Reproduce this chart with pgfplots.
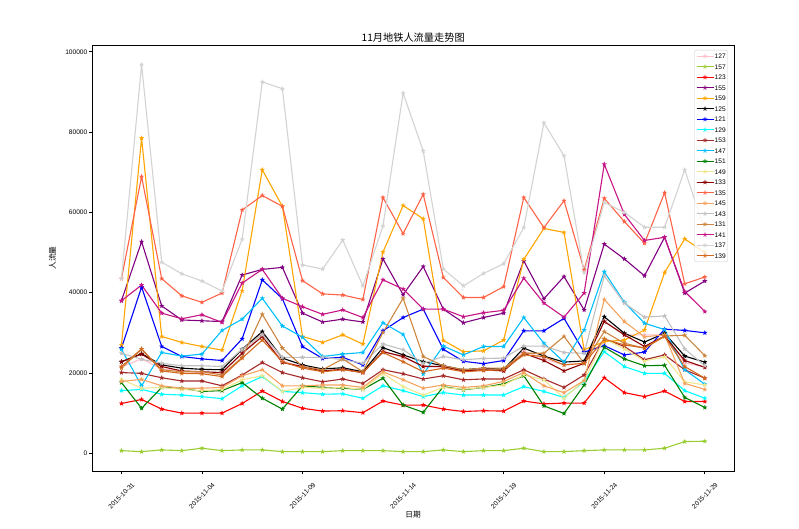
\documentclass[border=0pt]{standalone}
\usepackage{fontspec}
\setmainfont{Liberation Sans}
\newfontfamily\cjk{Noto Sans CJK SC}
\usepackage{pgfplots}
\usepackage{pgfplotstable}
\pgfplotsset{compat=1.18}

\definecolor{c127}{HTML}{FFC0CB}
\definecolor{c157}{HTML}{9ACD32}
\definecolor{c123}{HTML}{FF0000}
\definecolor{c155}{HTML}{800080}
\definecolor{c159}{HTML}{FFA500}
\definecolor{c125}{HTML}{000000}
\definecolor{c121}{HTML}{0000FF}
\definecolor{c129}{HTML}{00FFFF}
\definecolor{c153}{HTML}{A52A2A}
\definecolor{c147}{HTML}{00BFFF}
\definecolor{c151}{HTML}{008000}
\definecolor{c149}{HTML}{F0E68C}
\definecolor{c133}{HTML}{8B0000}
\definecolor{c135}{HTML}{FF6347}
\definecolor{c145}{HTML}{F4A460}
\definecolor{c143}{HTML}{C0C0C0}
\definecolor{c131}{HTML}{CD853F}
\definecolor{c141}{HTML}{C71585}
\definecolor{c137}{HTML}{D3D3D3}
\definecolor{c139}{HTML}{D2691E}

\pgfdeclareplotmark{fstar}{%
  \pgfpathmoveto{\pgfpointpolar{90}{\pgfplotmarksize}}%
  \pgfpathlineto{\pgfpointpolar{126}{0.42*\pgfplotmarksize}}%
  \pgfpathlineto{\pgfpointpolar{162}{\pgfplotmarksize}}%
  \pgfpathlineto{\pgfpointpolar{198}{0.42*\pgfplotmarksize}}%
  \pgfpathlineto{\pgfpointpolar{234}{\pgfplotmarksize}}%
  \pgfpathlineto{\pgfpointpolar{270}{0.42*\pgfplotmarksize}}%
  \pgfpathlineto{\pgfpointpolar{306}{\pgfplotmarksize}}%
  \pgfpathlineto{\pgfpointpolar{342}{0.42*\pgfplotmarksize}}%
  \pgfpathlineto{\pgfpointpolar{18}{\pgfplotmarksize}}%
  \pgfpathlineto{\pgfpointpolar{54}{0.42*\pgfplotmarksize}}%
  \pgfpathclose
  \pgfusepathqfill
}

\pgfplotstableread{
name d0 d1 d2 d3 d4 d5 d6 d7 d8 d9 d10 d11 d12 d13 d14 d15 d16 d17 d18 d19 d20 d21 d22 d23 d24 d25 d26 d27 d28 d29
s127 21500 23500 21000 20500 20000 20000 25000 29800 23000 21500 20500 21000 20000 25500 23800 21800 21500 20500 21000 20500 25500 23500 22000 22500 33000 29500 29500 29500 22500 21500
s157 650 400 830 650 1250 650 830 830 400 400 400 650 650 650 400 400 830 400 650 650 1250 400 400 650 830 830 830 1250 2900 3000
s123 12400 13400 11000 10000 10000 10000 12400 15500 12900 11200 10500 10600 10100 13000 12000 12000 11000 10400 10600 10500 13000 12300 12500 12500 18800 15100 14100 15500 12900 12900
s155 38000 52700 36700 33200 33000 32800 44400 45800 46300 34900 32700 33400 32700 48400 39500 46500 35900 32500 33800 34900 47900 38500 44000 35700 52100 48400 44200 53800 39900 42900
s159 27000 78500 29100 27600 26600 25700 40500 70600 61500 29100 27600 29500 27200 50100 61700 58400 28100 25300 25500 28200 48300 56000 55000 25800 27800 28200 30700 45000 53400 50000
s125 22800 24800 22000 21200 20900 20800 25900 30300 23700 22000 21000 21300 20300 26300 24500 22800 21800 20800 21200 20900 26200 24200 22700 23000 34000 29900 27700 29900 24200 22700
s121 26200 41400 26600 24100 23500 23100 28500 43200 38500 26600 23600 23900 22000 30500 33800 35900 25900 22900 22300 23100 30500 30500 33600 25200 26800 24500 25200 30900 30600 30000
s129 15600 15900 14700 14500 14100 13600 16800 19100 15400 15100 14700 14800 13700 16800 15600 14100 15100 14500 14500 14500 16600 15400 13900 17900 25300 21600 19900 19900 15600 13700
s153 20100 19900 18800 18000 18000 16800 19500 22600 20100 18800 17800 18500 17400 20800 19800 18500 19300 18300 18500 18500 20800 18500 16400 19500 28500 26600 23300 24500 20800 18700
s147 25900 16800 25100 24200 24700 30600 33400 38600 31700 28900 24100 24700 25100 32500 29600 19700 26700 24500 26600 26600 33800 27400 22700 30700 45200 37600 32400 30800 20800 17200
s151 17600 11200 16400 16200 15400 15600 17600 13700 11000 16800 16400 16200 15900 18700 12000 10200 16600 15800 16400 17300 19300 11800 9900 17000 26400 23500 21800 21900 13900 11400
s149 18400 16200 16400 15900 15600 15900 18300 19300 15400 16400 16200 16400 15900 19900 16600 14500 16400 15900 16400 17000 19500 18300 13700 18100 28600 26000 23000 24000 17800 17000
s133 22800 24700 21600 20500 20300 20100 24900 29100 22600 21600 20500 20900 20100 25300 24100 21600 21600 20500 20800 20500 24900 23100 20500 22400 32800 29500 26600 29200 23100 21400
s135 43500 68900 43500 39200 37600 39900 60600 64200 61500 43000 39700 39400 38300 63700 54700 64500 43800 38800 38800 41500 63700 56200 62900 45700 63500 57700 52300 64900 42200 43900
s145 17900 18400 16800 16200 16200 16400 19300 20800 16800 16800 17000 17000 16400 20300 18300 16200 17000 16400 16800 17900 20100 16800 15100 18100 38300 32800 29000 29500 17400 15900
s143 24900 23400 22400 21800 21800 21600 25900 29500 23900 23900 23900 23300 22400 27200 25800 22400 24100 23300 23600 23700 26700 26700 25100 24900 44200 37400 33900 34200 26000 21800
s131 21200 25900 20800 20300 20300 19500 23900 34600 26200 21600 20800 23500 20300 30100 38600 24100 21800 20800 21200 21200 24900 24900 29100 22400 30300 27400 26200 29200 29400 24300
s141 38000 41900 34900 33500 34500 32600 42400 45800 38600 36500 34600 35700 33800 43200 40900 35900 35900 34000 35000 35600 43600 37400 33900 39900 72000 59500 53000 53800 40300 35300
s137 43500 96800 47600 44700 42900 40400 53300 92500 90800 46900 45900 53100 41700 56600 89700 75300 45900 41700 44800 47200 56200 82300 74100 45000 62500 60000 56300 56300 70600 55500
s139 21600 26000 20500 19900 19800 19100 23700 28200 22800 21200 20300 20800 20100 25100 22800 20300 21200 20300 20600 20800 24500 24100 22000 22400 28400 27000 26200 29100 21600 18700
}\rawdata
\pgfplotstabletranspose[colnames from=name]{\flow}{\rawdata}

\begin{document}
\begin{tikzpicture}
\path[use as bounding box] (-92.3pt,-58pt) rectangle (706.7pt,471pt);
\begin{axis}[
  at={(0pt,0pt)}, anchor=south west,
  scale only axis, width=641.7pt, height=425.7pt,
  xmin=-1.45, xmax=30.45, ymin=-4420, ymax=101620,
  xtick={0,4,9,14,19,24,29},
  xticklabels={2015-10-31,2015-11-04,2015-11-09,2015-11-14,2015-11-19,2015-11-24,2015-11-29},
  ytick={0,20000,40000,60000,80000,100000},
  scaled y ticks=false,
  /pgf/number format/assume math mode=true,
  yticklabel style={/pgf/number format/fixed,/pgf/number format/1000 sep={}},
  tick align=outside, xtick pos=left, ytick pos=left,
  major tick length=3.3pt,
  tick style={black, line width=0.7pt},
  axis line style={black, line width=0.7pt},
  ticklabel style={font=\fontsize{6.6}{7.5}\selectfont},
  yticklabel style={inner sep=1.5pt},
  xticklabel style={yshift=-21.5pt, rotate=45, anchor=center},
  title={11月地铁人流量走势图},
  title style={at={(axis description cs:0.5,1)}, anchor=base, yshift=-2pt, inner sep=0pt, font=\cjk\fontsize{10.2}{12}\selectfont},
  xlabel={日期},
  xlabel style={at={(axis description cs:0.5,-0.1034)}, anchor=center, font=\cjk\fontsize{7.7}{9}\selectfont},
  ylabel={人流量},
  ylabel style={at={(axis description cs:-0.0623,0.5)}, anchor=center, font=\cjk\fontsize{7.7}{9}\selectfont},
  every axis plot/.append style={line width=1.1pt, mark=fstar, mark size=2.7pt},
  legend style={at={(axis description cs:0.9906,0.989)}, anchor=north east,
    draw=black!20, rounded corners=1.5pt, fill=white, fill opacity=0.8, text opacity=1,
    font=\fontsize{6.6}{7.5}\selectfont, inner xsep=1.5pt, inner ysep=1.8pt,
    row sep=2pt,
    nodes={inner sep=0.6pt, text height=6pt, text depth=1.3pt}},
  legend cell align=left,
  legend image code/.code={%
    \draw[mark repeat=2,mark phase=2] plot coordinates {(0pt,0pt) (8.5pt,0pt) (17pt,0pt)};},
]
\addplot[c127] table[x expr=\coordindex, y=s127] {\flow};
\addplot[c157] table[x expr=\coordindex, y=s157] {\flow};
\addplot[c123] table[x expr=\coordindex, y=s123] {\flow};
\addplot[c155] table[x expr=\coordindex, y=s155] {\flow};
\addplot[c159] table[x expr=\coordindex, y=s159] {\flow};
\addplot[c125] table[x expr=\coordindex, y=s125] {\flow};
\addplot[c121] table[x expr=\coordindex, y=s121] {\flow};
\addplot[c129] table[x expr=\coordindex, y=s129] {\flow};
\addplot[c153] table[x expr=\coordindex, y=s153] {\flow};
\addplot[c147] table[x expr=\coordindex, y=s147] {\flow};
\addplot[c151] table[x expr=\coordindex, y=s151] {\flow};
\addplot[c149] table[x expr=\coordindex, y=s149] {\flow};
\addplot[c133] table[x expr=\coordindex, y=s133] {\flow};
\addplot[c135] table[x expr=\coordindex, y=s135] {\flow};
\addplot[c145] table[x expr=\coordindex, y=s145] {\flow};
\addplot[c143] table[x expr=\coordindex, y=s143] {\flow};
\addplot[c131] table[x expr=\coordindex, y=s131] {\flow};
\addplot[c141] table[x expr=\coordindex, y=s141] {\flow};
\addplot[c137] table[x expr=\coordindex, y=s137] {\flow};
\addplot[c139] table[x expr=\coordindex, y=s139] {\flow};
\legend{127,157,123,155,159,125,121,129,153,147,151,149,133,135,145,143,131,141,137,139}
\end{axis}
\end{tikzpicture}
\end{document}
